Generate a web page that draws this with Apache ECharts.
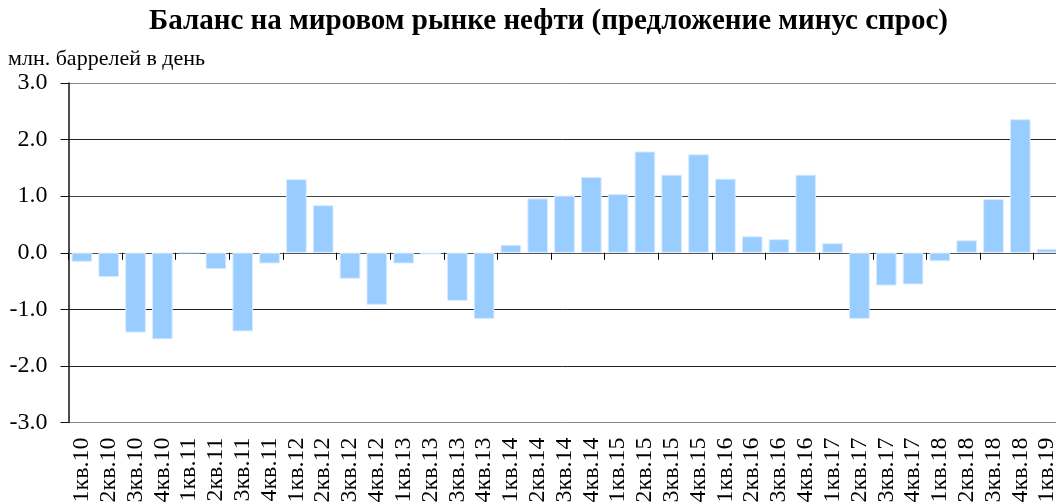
<!DOCTYPE html>
<html>
<head>
<meta charset="utf-8">
<script src="https://cdn.jsdelivr.net/npm/echarts@6/dist/echarts.min.js"></script>
<style>
html,body{margin:0;padding:0;background:#fff;}
#c{width:1056px;height:502px;}
</style>
</head>
<body>
<div id="c"></div>
<script>
var categories = ['1кв.10','2кв.10','3кв.10','4кв.10','1кв.11','2кв.11','3кв.11','4кв.11',
  '1кв.12','2кв.12','3кв.12','4кв.12','1кв.13','2кв.13','3кв.13','4кв.13',
  '1кв.14','2кв.14','3кв.14','4кв.14','1кв.15','2кв.15','3кв.15','4кв.15',
  '1кв.16','2кв.16','3кв.16','4кв.16','1кв.17','2кв.17','3кв.17','4кв.17',
  '1кв.18','2кв.18','3кв.18','4кв.18','1кв.19'];
var balance = [-0.16,-0.43,-1.41,-1.53,0.00,-0.29,-1.39,-0.19,
  1.30,0.84,-0.46,-0.92,-0.19,-0.03,-0.85,-1.17,
  0.14,0.96,1.01,1.34,1.04,1.79,1.38,1.74,
  1.31,0.29,0.24,1.38,0.17,-1.17,-0.58,-0.56,
  -0.15,0.22,0.95,2.36,0.07];
var titleText = 'Баланс на мировом рынке нефти (предложение минус спрос)';
var unitText = 'млн. баррелей в день';

var font = '"Liberation Serif","Times New Roman",serif';
var chart = echarts.init(document.getElementById('c'), null, {renderer:'canvas'});
chart.setOption({
  backgroundColor:'#fff',
  animation:false,
  graphic:[
    {type:'text', x:548.5, y:22, silent:true,
     style:{text:titleText, textAlign:'center', textVerticalAlign:'middle',
       font:'bold 29px ' + font, fill:'#000'}},
    {type:'text', x:8, y:59, silent:true,
     style:{text:unitText, textAlign:'left', textVerticalAlign:'middle',
       font:'22px ' + font, fill:'#000'}}
  ],
  grid:{left:68.5, right:-4.5, top:83, bottom:79.5, containLabel:false, outerBoundsMode:'none'},
  xAxis:[
    {type:'category', data:categories, boundaryGap:true, position:'bottom',
     axisLine:{onZero:true, lineStyle:{color:'#555', width:1}},
     axisTick:{show:true, inside:false, length:7, alignWithLabel:false, lineStyle:{color:'#000'}},
     axisLabel:{show:false}, splitLine:{show:false}},
    {type:'category', data:categories, boundaryGap:true, position:'bottom',
     axisLine:{show:false}, axisTick:{show:false},
     axisLabel:{show:true, interval:0, rotate:90, margin:15,
       fontFamily:font, fontSize:24, color:'#000'},
     splitLine:{show:false}}
  ],
  yAxis:{type:'value', min:-3, max:3, interval:1,
    axisLine:{show:true, onZero:false, lineStyle:{color:'#111', width:1.5}},
    axisTick:{show:true, inside:false, length:8, lineStyle:{color:'#111'}},
    axisLabel:{formatter:function(v){return v.toFixed(1);}, margin:21,
      fontFamily:font, fontSize:24, color:'#000'},
    splitLine:{show:true, lineStyle:{color:['#888','#222','#222','#555','#444','#222','#888'], width:1}}
  },
  series:[{type:'bar', xAxisIndex:0, data:balance, barCategoryGap:'23%',
    itemStyle:{color:'#99CCFF', borderColor:'#D6EBFF', borderWidth:1}}]
});
</script>
</body>
</html>
